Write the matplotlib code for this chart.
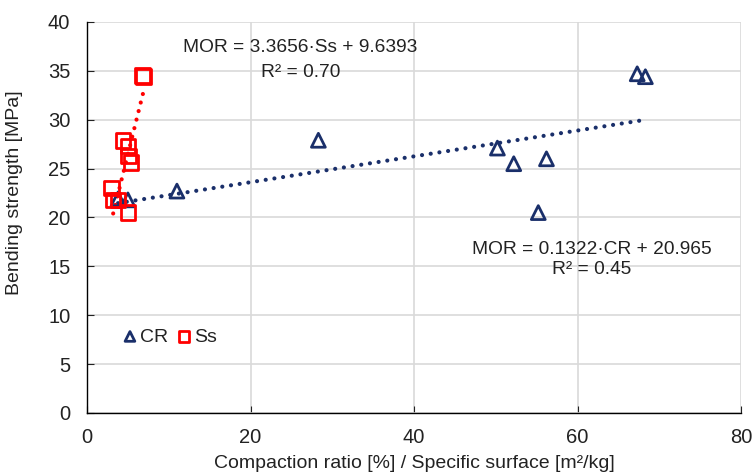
import numpy as np
import matplotlib
matplotlib.use('Agg')
import matplotlib.pyplot as plt

plt.rcParams['font.family'] = ['Liberation Sans', 'DejaVu Sans']

# 데이터
cr_x = [3.8, 5.0, 11.0, 28.3, 50.2, 52.2, 55.2, 56.2, 67.3, 68.3]
cr_y = [21.9, 21.8, 22.7, 27.9, 27.1, 25.5, 20.5, 26.0, 34.7, 34.4]

ss_x = [3.0, 3.2, 3.8, 4.4, 5.0, 5.0, 5.1, 5.4, 6.8, 6.9]
ss_y = [23.0, 21.8, 21.8, 27.9, 20.5, 27.3, 26.3, 25.6, 34.5, 34.4]

# 추세선 계수
cr_fit = (0.1322, 20.965)
ss_fit = (3.3656, 9.6393)

navy = '#1A2F6A'
red = '#FF0000'
txt = '#222222'

fig = plt.figure(figsize=(7.54, 4.76), dpi=100)
ax = fig.add_axes([0.1154, 0.1324, 0.8674, 0.8214])

ax.set_xlim(0, 80)
ax.set_ylim(0, 40)
ax.set_xticks(np.arange(0, 81, 20))
ax.set_yticks(np.arange(0, 41, 5))
ax.grid(True, color='#D9D9D9', linewidth=1.2)
ax.set_axisbelow(True)

for s in ['top', 'right']:
    ax.spines[s].set_visible(False)
for s in ['left', 'bottom']:
    ax.spines[s].set_color('black')
    ax.spines[s].set_linewidth(1.0)
ax.tick_params(direction='in', length=5, labelsize=14.5, colors=txt)
ax.tick_params(axis='x', pad=11)
ax.tick_params(axis='y', pad=12)

# 추세선 (점선)
xr = np.array([min(cr_x), max(cr_x)])
ax.plot(xr, cr_fit[0] * xr + cr_fit[1], linestyle=(0, (0.01, 2.1)), color=navy,
        linewidth=3, dash_capstyle='round', zorder=2)
xs = np.array([min(ss_x) + 0.2, max(ss_x)])
ax.plot(xs, ss_fit[0] * xs + ss_fit[1], linestyle=(0, (0.01, 2.1)), color=red,
        linewidth=3, dash_capstyle='round', zorder=2)

ax.scatter(cr_x, cr_y, marker='^', s=100, facecolors='none', edgecolors=navy,
           linewidths=2, label='CR', zorder=3)
ax.scatter(ss_x, ss_y, marker='s', s=110, facecolors='none', edgecolors=red,
           linewidths=2, label='Ss', zorder=3)

eq_kw = dict(fontsize=13.8, color=txt, ha='center', va='center')
ax.text(0.326, 0.936, 'MOR = 3.3656·Ss + 9.6393', transform=ax.transAxes, **eq_kw)
ax.text(0.326, 0.870, 'R² = 0.70', transform=ax.transAxes, **eq_kw)
ax.text(0.772, 0.417, 'MOR = 0.1322·CR + 20.965', transform=ax.transAxes, **eq_kw)
ax.text(0.772, 0.366, 'R² = 0.45', transform=ax.transAxes, **eq_kw)

ax.legend(loc='center left', bbox_to_anchor=(0.03, 0.195), ncol=2, frameon=False,
          fontsize=14, handletextpad=0.0, columnspacing=0.35, markerscale=0.7,
          handlelength=1.0, borderpad=0.2, labelcolor=txt)

ax.set_xlabel('Compaction ratio [%] / Specific surface [m²/kg]', fontsize=14,
              color=txt, va='center')
ax.xaxis.set_label_coords(0.5, -0.13)
ax.set_ylabel('Bending strength [MPa]', fontsize=14, color=txt)
ax.yaxis.set_label_coords(-0.098, 0.563)

fig.savefig('out.png', dpi=100)
